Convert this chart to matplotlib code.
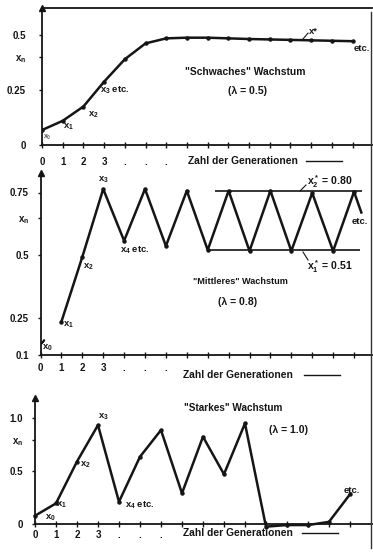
import matplotlib
matplotlib.use("Agg")
import matplotlib.pyplot as plt
from matplotlib.lines import Line2D

plt.rcParams['font.family'] = ['Liberation Sans', 'DejaVu Sans']
plt.rcParams['font.weight'] = 'bold'
plt.rcParams['mathtext.fontset'] = 'custom'
plt.rcParams['mathtext.rm'] = 'Liberation Sans:bold'
plt.rcParams['mathtext.it'] = 'Liberation Sans:bold'
plt.rcParams['mathtext.bf'] = 'Liberation Sans:bold'

# Daten
generations = list(range(16))
xtick_labels = ['0', '1', '2', '3', '.', '.', '.'] + [''] * 9

weak = [0.068, 0.11, 0.175, 0.288, 0.39, 0.462, 0.485, 0.488,
        0.488, 0.485, 0.482, 0.48, 0.478, 0.476, 0.474, 0.472]

medium = [0.149, 0.233, 0.492, 0.764, 0.557, 0.764, 0.536, 0.757,
          0.52, 0.757, 0.516, 0.757, 0.516, 0.748, 0.516, 0.753]
medium_tail_n = [15, 15.35]
medium_tail = [0.753, 0.67]
cycle_high, cycle_high_span = 0.756, (8.35, 15.4)
cycle_low, cycle_low_span = 0.52, (7.97, 15.3)

strong = [0.078, 0.195, 0.59, 0.934, 0.21, 0.635, 0.887, 0.29,
          0.824, 0.47, 0.95, -0.025, -0.01, -0.01, 0.02, 0.28]

ink = '#151515'
W, H = 373, 552
fs = 6.8
fs_l = 7.6

fig = plt.figure(figsize=(W / 100, H / 100), dpi=100)


def px_axes(left, top, right, bottom):
    return fig.add_axes([left / W, 1 - bottom / H, (right - left) / W, (bottom - top) / H])


def setup(ax, xmax, ylim, yticks, ylabels, xpad, ypad):
    ax.set_xlim(0, xmax)
    ax.set_ylim(*ylim)
    ax.set_xticks(generations)
    ax.set_xticklabels(xtick_labels)
    ax.set_yticks(yticks)
    ax.set_yticklabels(ylabels)
    ax.tick_params(axis='x', direction='inout', length=4, width=1, pad=xpad,
                   labelsize=7, colors=ink)
    ax.tick_params(axis='y', direction='out', length=2.5, width=1, pad=ypad,
                   labelsize=7, colors=ink)
    ax.spines['right'].set_visible(False)
    ax.spines['top'].set_visible(False)
    for s in ['left', 'bottom', 'top']:
        ax.spines[s].set_linewidth(1.3)
        ax.spines[s].set_color(ink)
    ax.plot(0, 1, '^', transform=ax.transAxes, clip_on=False, ms=4, color=ink)
    ax.patch.set_alpha(0)


def gen_label(left, y, right_end):
    fig.text(left / W, 1 - y / H, 'Zahl der Generationen', fontsize=7.4,
             va='center', ha='left', color=ink)
    fig.add_artist(Line2D([(right_end - 36) / W, right_end / W],
                          [1 - y / H, 1 - y / H], lw=1, color=ink))


# --- Panel 1: schwaches Wachstum ---
ax1 = px_axes(42, 8, 372, 145)
setup(ax1, 15.94, (0, 0.623), [0, 0.25, 0.4, 0.5], ['0', '0.25', '$x_n$', '0.5'], 7, 9)
ax1.spines['top'].set_visible(True)
ax1.plot(generations, weak, color=ink, lw=1.8, marker='o', ms=2.2)
ax1.text(0.25, 0.036, 'x$_0$', fontsize=5, ha='center', va='center', color='#555555')
ax1.text(1.26, 0.082, 'x$_1$', fontsize=fs, ha='center', va='center', color=ink)
ax1.text(2.5, 0.136, 'x$_2$', fontsize=fs, ha='center', va='center', color=ink)
ax1.text(2.8, 0.25, 'x$_3$ etc.', fontsize=fs, ha='left', va='center', color=ink)
ax1.plot([12.56, 12.85], [0.477, 0.509], color=ink, lw=0.8)
ax1.text(13.1, 0.515, 'x*', fontsize=fs, ha='center', va='center', color=ink)
ax1.text(15.05, 0.44, 'etc.', fontsize=fs, ha='left', va='center', color=ink)
ax1.text(9.8, 0.33, '"Schwaches" Wachstum', fontsize=7.4, ha='center', va='center', color=ink)
ax1.text(9.95, 0.245, '(λ = 0.5)', fontsize=fs_l, ha='center', va='center', color=ink)
gen_label(188, 161, 342)

# --- Panel 2: mittleres Wachstum ---
ax2 = px_axes(40.5, 173, 372, 355)
setup(ax2, 15.86, (0.1, 0.828), [0.1, 0.25, 0.5, 0.648, 0.75],
      ['0.1', '0.25', '0.5', '$x_n$', '0.75'], 4, 6)
ax2.plot(generations[1:], medium[1:], color=ink, lw=1.8, marker='o', ms=2.2)
ax2.plot(medium_tail_n, medium_tail, color=ink, lw=1.8)
ax2.plot(generations[0], medium[0], marker=(2, 2, -40), ms=7, mew=1.3, color=ink)
ax2.hlines(cycle_high, *cycle_high_span, color=ink, lw=1.2)
ax2.hlines(cycle_low, *cycle_low_span, color=ink, lw=1.2)
ax2.text(0.07, 0.128, 'x$_0$', fontsize=fs, ha='left', va='center', color=ink)
ax2.text(1.32, 0.22, 'x$_1$', fontsize=fs, ha='center', va='center', color=ink)
ax2.text(2.27, 0.452, 'x$_2$', fontsize=fs, ha='center', va='center', color=ink)
ax2.text(3.0, 0.80, 'x$_3$', fontsize=fs, ha='center', va='center', color=ink)
ax2.text(3.8, 0.52, 'x$_4$ etc.', fontsize=fs, ha='left', va='center', color=ink)
ax2.plot([12.42, 12.7], [0.756, 0.78], color=ink, lw=0.8)
ax2.text(12.75, 0.792, 'x$_2^*$ = 0.80', fontsize=fs_l, ha='left', va='center', color=ink)
ax2.plot([12.56, 12.8], [0.512, 0.48], color=ink, lw=0.8)
ax2.text(12.75, 0.452, 'x$_1^*$ = 0.51', fontsize=fs_l, ha='left', va='center', color=ink)
ax2.text(14.9, 0.632, 'etc.', fontsize=fs, ha='left', va='center', color=ink)
ax2.text(9.55, 0.392, '"Mittleres" Wachstum', fontsize=6.6, ha='center', va='center', color=ink)
ax2.text(9.45, 0.312, '(λ = 0.8)', fontsize=fs_l, ha='center', va='center', color=ink)
gen_label(183, 375, 340)

# --- Panel 3: starkes Wachstum ---
ax3 = px_axes(35, 398, 372, 524)
setup(ax3, 16.05, (0, 1.19), [0, 0.5, 0.79, 1.0], ['0', '0.5', '$x_n$', '1.0'], 2, 6)
ax3.plot(generations, strong, color=ink, lw=1.8, marker='o', ms=2.2, clip_on=False)
ax3.text(0.75, 0.06, 'x$_0$', fontsize=fs, ha='center', va='center', color=ink)
ax3.text(1.27, 0.18, 'x$_1$', fontsize=fs, ha='center', va='center', color=ink)
ax3.text(2.38, 0.557, 'x$_2$', fontsize=fs, ha='center', va='center', color=ink)
ax3.text(3.24, 1.01, 'x$_3$', fontsize=fs, ha='center', va='center', color=ink)
ax3.text(4.29, 0.18, 'x$_4$ etc.', fontsize=fs, ha='left', va='center', color=ink)
ax3.text(15.08, 0.32, 'etc.', fontsize=fs, ha='center', va='center', color=ink)
ax3.text(9.43, 1.094, '"Starkes" Wachstum', fontsize=7.2, ha='center', va='center', color=ink)
ax3.text(12.05, 0.887, '(λ = 1.0)', fontsize=fs_l, ha='center', va='center', color=ink)
gen_label(183, 533, 338)

# rechter Rand der Vorlage
fig.add_artist(Line2D([371 / W, 371 / W], [1 - 12 / H, 1 - 548 / H], lw=1, color='#333333'))

fig.savefig('out.png', dpi=100, facecolor='white')
